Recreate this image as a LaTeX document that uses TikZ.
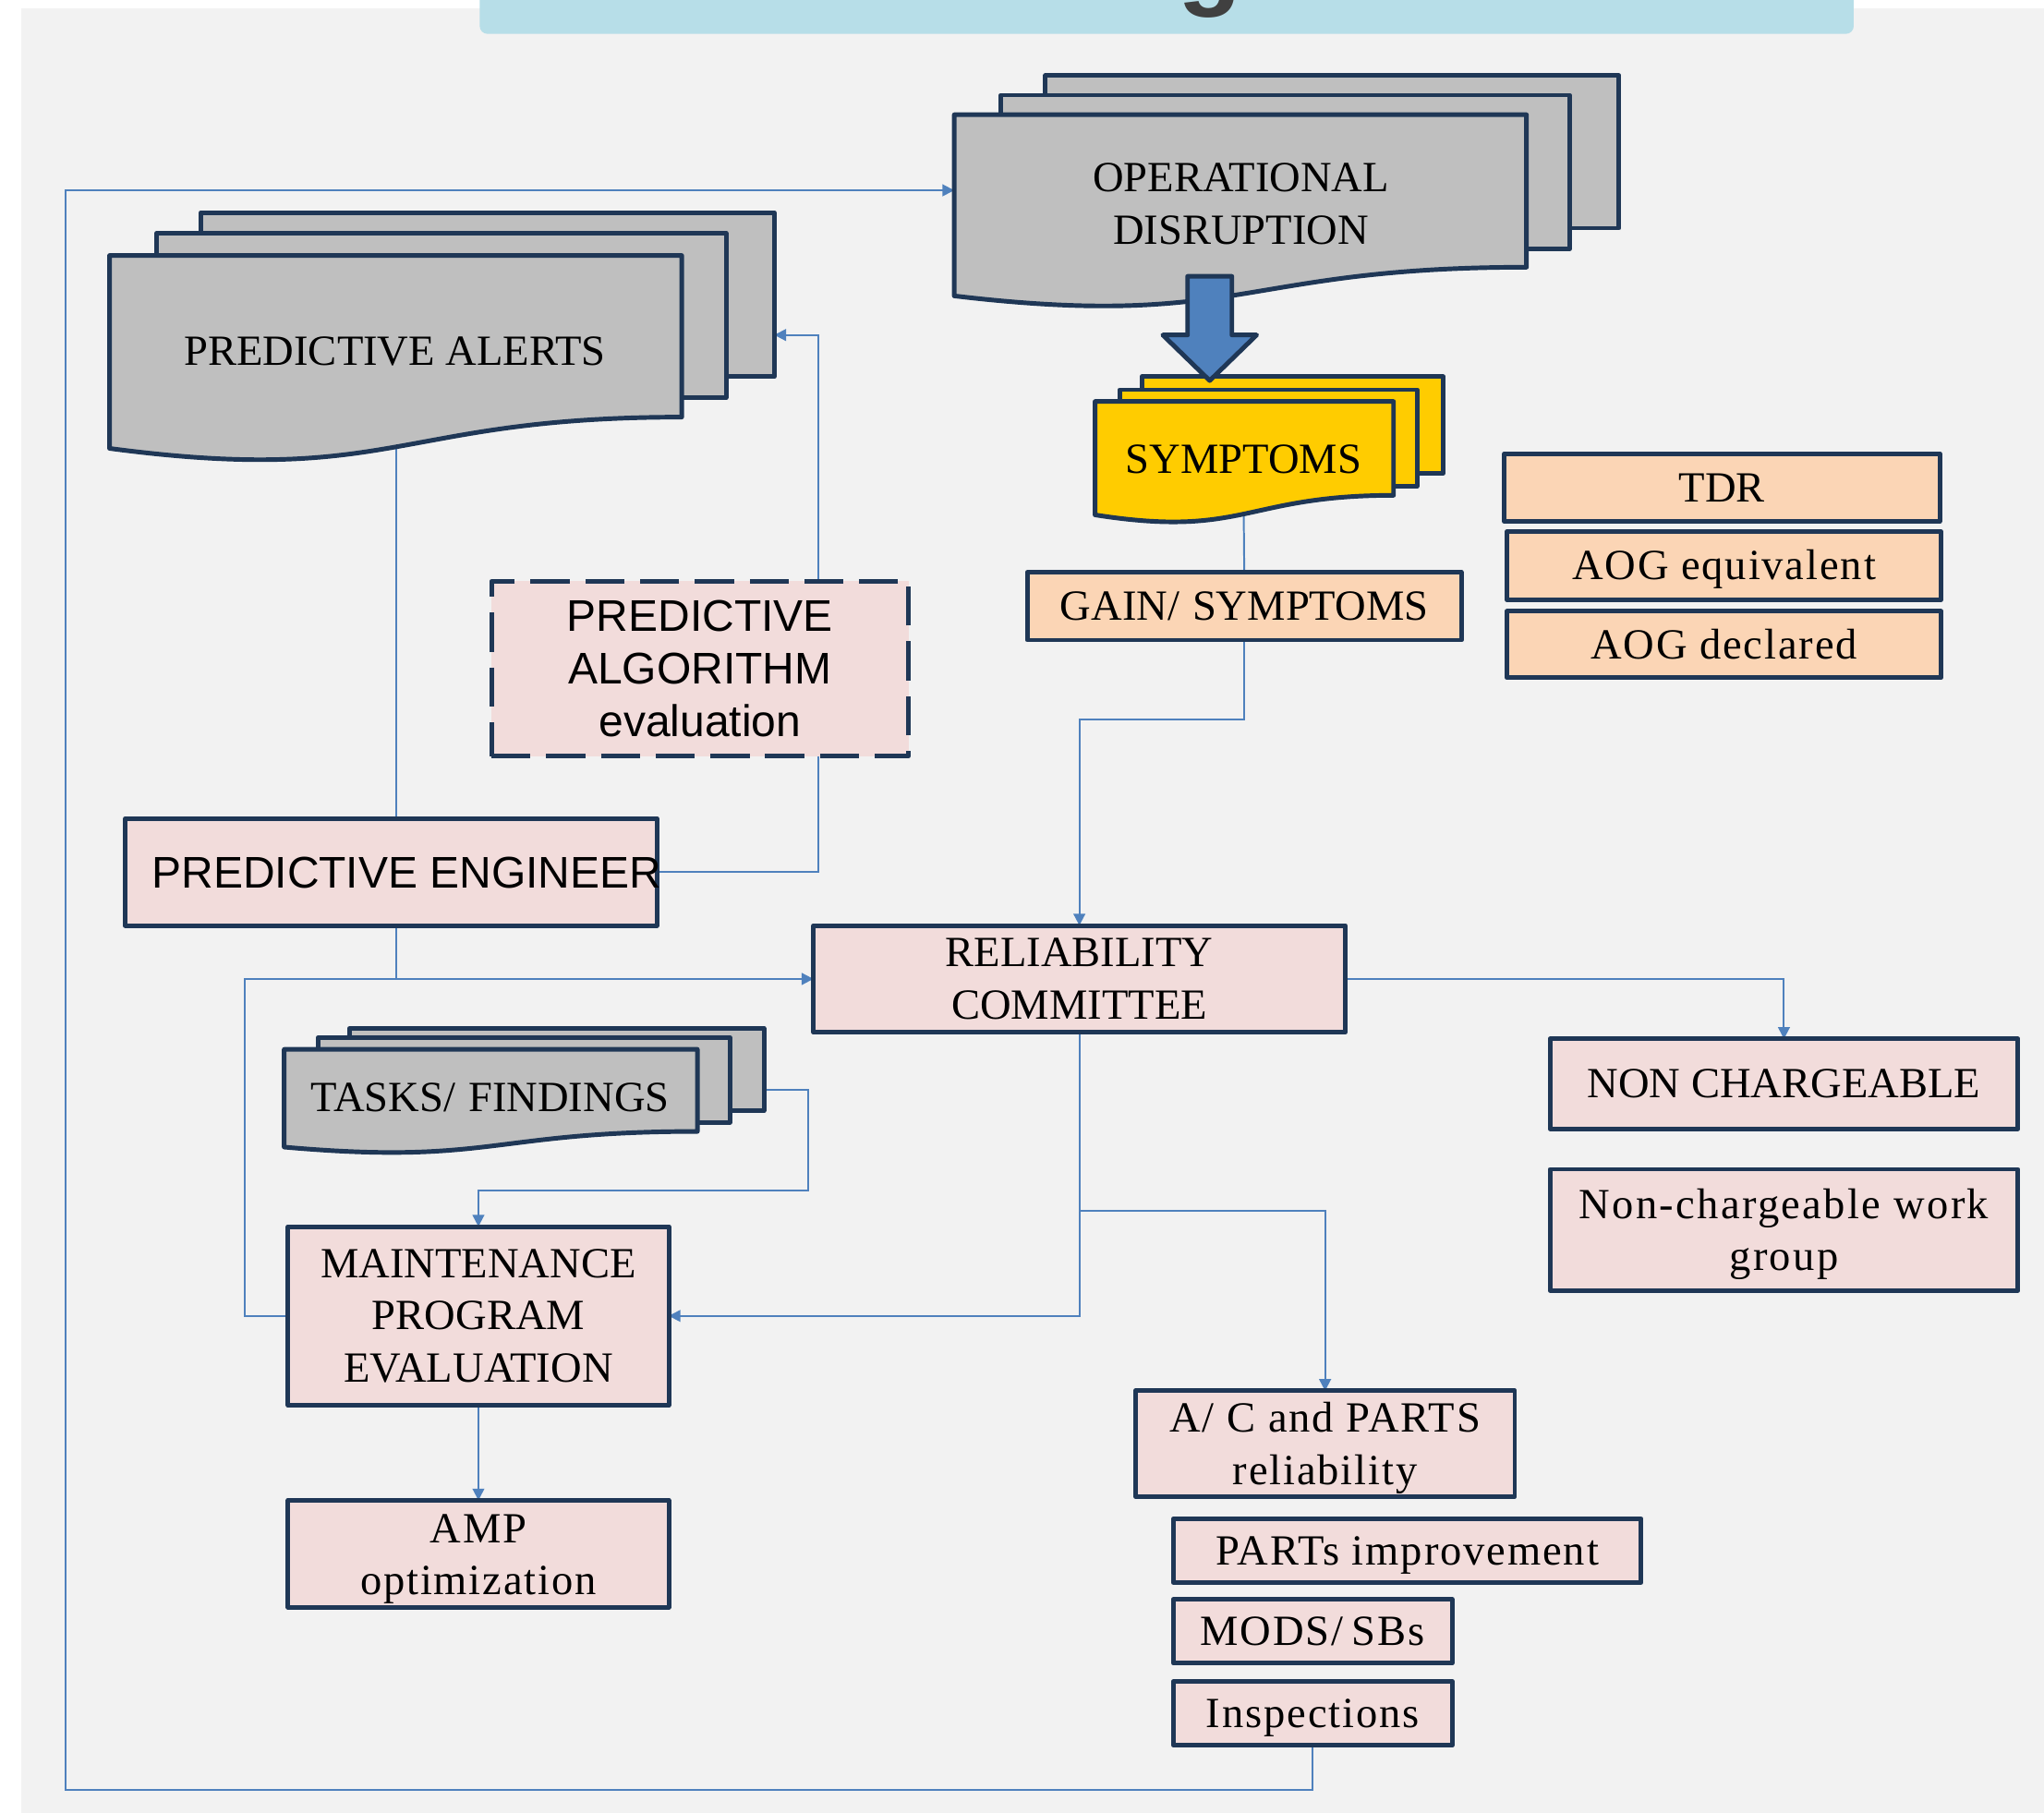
\documentclass[tikz,border=0pt]{standalone}
\usepackage{fontspec}
\setmainfont{Liberation Serif}
\newfontfamily\arialf{Liberation Sans}
\newfontfamily\spacedf[LetterSpace=4]{Liberation Serif}
\newfontfamily\spacedwf[LetterSpace=5]{Liberation Serif}
\usetikzlibrary{arrows.meta}
\definecolor{navy}{HTML}{1F3756}
\definecolor{grayc}{HTML}{BFBFBF}
\definecolor{yellowc}{HTML}{FFCC00}
\definecolor{peachc}{HTML}{FBD5B5}
\definecolor{pinkc}{HTML}{F2DCDB}
\definecolor{bgc}{HTML}{F2F2F2}
\definecolor{connc}{HTML}{4F81BD}
\definecolor{bannerc}{HTML}{B7DEE8}
\definecolor{gtext}{HTML}{404040}
\pgfdeclarelayer{bglayer}
\pgfdeclarelayer{connlayer}
\pgfsetlayers{bglayer,connlayer,main}
\begin{document}
\begin{tikzpicture}[x=0.5pt,y=-0.5pt,
  tm/.style={font=\fontsize{16.5}{20}\selectfont},
  tms/.style={font=\spacedf\fontsize{16.5}{20}\selectfont},
  tmw/.style={font=\spacedwf\fontsize{16.5}{20}\selectfont},
  ar/.style={font=\arialf\fontsize{17}{20.25}\selectfont},
  box/.style={draw=navy, line width=1.75pt, inner sep=0pt, outer sep=0pt, line join=round, align=center},
  pinkbox/.style={box, fill=pinkc},
  peachbox/.style={box, fill=peachc},
  sheet/.style={draw=navy, line width=1.75pt, line join=round},
  lbl/.style={inner sep=0pt, align=center},
  conn/.style={draw=connc, line width=0.7pt},
  conna/.style={conn, -{Triangle[length=4.5pt,width=4.5pt]}},
  one/.style={text height=10.9pt, text depth=0pt}]
\useasboundingbox (0,0) rectangle (1568,1390.2);
\begin{pgfonlayer}{bglayer}
  \fill[bgc] (16,6.4) rectangle (1570,1392);
  \fill[bannerc, rounded corners=3pt] (368,-20) rectangle (1422,26);
\end{pgfonlayer}
\node[font=\arialf\bfseries\fontsize{40}{40}\selectfont, text=gtext, anchor=base, inner sep=0pt] (gletter) at (928,-3) {g};

% operational disruption
\path[sheet, fill=grayc] (802,58) rectangle (1242,175);
\path[sheet, fill=grayc] (768,73) rectangle (1204,191);
\path[sheet, fill=grayc] (732,88) -- (1171,88) -- (1171,205) .. controls (951.5,205) and (951.5,253) .. (732,227) -- cycle;
\node[tm, lbl] (opt) at (952,156.5) {OPERATIONAL\\DISRUPTION};
% predictive alerts
\path[sheet, fill=grayc] (154,163) rectangle (594,289);
\path[sheet, fill=grayc] (120,179) rectangle (557,305);
\path[sheet, fill=grayc] (84,196) -- (523,196) -- (523,320) .. controls (303.5,320) and (303.5,373) .. (84,344) -- cycle;
\node[tm, one, lbl] (pat) at (303,269) {PREDICTIVE ALERTS};
% symptoms
\path[sheet, fill=yellowc] (876,289) rectangle (1107,363);
\path[sheet, fill=yellowc] (859,299) rectangle (1087,373);
\path[sheet, fill=yellowc] (840,308) -- (1069,308) -- (1069,380) .. controls (954.5,380) and (954.5,413) .. (840,395) -- cycle;
\node[tm, one, lbl] (symt) at (954,352) {SYMPTOMS};
% block arrow
\path[sheet, fill=connc] (911,212) -- (945,212) -- (945,257) -- (964,257) -- (928,292) -- (892,257) -- (911,257) -- cycle;
% tasks/findings
\path[sheet, fill=grayc] (268,789) rectangle (586,852);
\path[sheet, fill=grayc] (244,796) rectangle (560,861);
\path[sheet, fill=grayc] (218,805) -- (535,805) -- (535,868) .. controls (376.5,868) and (376.5,894) .. (218,880) -- cycle;
\node[tm, one, lbl] (taskt) at (376,842) {TASKS/\hspace{0.3em}FINDINGS};

% boxes
\node[peachbox, tm, one, minimum width=167pt, minimum height=26pt] (tdr) at (1321,374) {TDR};
\node[peachbox, tms, one, minimum width=166.5pt, minimum height=26pt] (aogeq) at (1322.5,434) {AOG equivalent};
\node[peachbox, tms, one, minimum width=166.5pt, minimum height=25.5pt] (aogdec) at (1322.5,494.5) {AOG declared};
\node[peachbox, tm, one, minimum width=166.5pt, minimum height=26pt] (gain) at (954.5,465) {GAIN/\hspace{0.3em}SYMPTOMS};
\node[pinkbox, ar, dash pattern=on 15pt off 6pt, line width=1.75pt, minimum width=160pt, minimum height=67pt] (alg) at (537,513) {PREDICTIVE\\ALGORITHM\\evaluation};
\node[pinkbox, minimum width=204pt, minimum height=41pt] (eng) at (300,669) {};
\node[ar, text height=12.2pt, text depth=0pt, lbl] (engt) at (312,669) {PREDICTIVE ENGINEER};
\node[pinkbox, tm, minimum width=204pt, minimum height=41pt] (rel) at (828,751) {RELIABILITY\\COMMITTEE};
\node[pinkbox, tm, one, minimum width=179.5pt, minimum height=34.5pt] (nonch) at (1368.5,831.5) {NON CHARGEABLE};
\node[pinkbox, minimum width=179.5pt, minimum height=46.5pt] (ncwg) at (1368.5,943.5) {};
\node[tmw, lbl] (ncwgt) at (1368.5,947) {Non-chargeable work\\group};
\node[pinkbox, tm, minimum width=146pt, minimum height=68.5pt] (maint) at (367,1009.5) {MAINTENANCE\\PROGRAM\\EVALUATION};
\node[pinkbox, minimum width=146pt, minimum height=41pt] (amp) at (367,1192) {};
\node[tms, lbl] (ampt) at (367,1196) {AMP\\optimization};
\node[pinkbox, minimum width=145.5pt, minimum height=40.5pt] (ac) at (1016.5,1107.5) {};
\node[tms, lbl] (act) at (1016.5,1111) {A/\hspace{0.3em}C and PARTS\\reliability};
\node[pinkbox, tms, one, minimum width=179.5pt, minimum height=24.5pt] (parts) at (1079.5,1189.5) {PARTs improvement};
\node[pinkbox, tms, one, minimum width=107pt, minimum height=24.5pt] (mods) at (1007,1251.5) {MODS/\hspace{0.2em}SBs};
\node[pinkbox, tms, one, minimum width=107pt, minimum height=24.5pt] (insp) at (1007,1314.5) {Inspections};

% connector anchors
\coordinate (opleft) at (732,146);
\coordinate (paright) at (594,257);
\coordinate (pabot) at (304,340);
\coordinate (symbot) at (954,385);
\coordinate (taskright) at (586,836);
\coordinate (algx) at (628,0);
\coordinate (leftx) at (50,1373);
\coordinate (turn) at (620,913);
\coordinate (acy) at (0,929);

\begin{pgfonlayer}{connlayer}
  \draw[conna] (insp.south) |- (leftx) |- (opleft);
  \draw[conna] (alg.north -| algx) |- (paright);
  \draw[conn] (alg.south -| algx) |- (eng.east);
  \draw[conn] (pabot) -- (pabot |- eng.north);
  \draw[conn] (eng.south -| pabot) -- (pabot |- rel.west);
  \draw[conna] (maint.west) -- ++(-33,0) |- (rel.west);
  \draw[conn] (symbot) -- (gain.north);
  \draw[conna] (gain.south) -- ++(0,61) -| (rel.north);
  \draw[conna] (rel.east) -| (nonch.north);
  \draw[conna] (rel.south) |- (maint.east);
  \draw[conna] (rel.south |- acy) -| (ac.north);
  \draw[conna] (taskright) -| (turn) -| (maint.north);
  \draw[conna] (maint.south) -- (amp.north);
\end{pgfonlayer}
\end{tikzpicture}
\end{document}
